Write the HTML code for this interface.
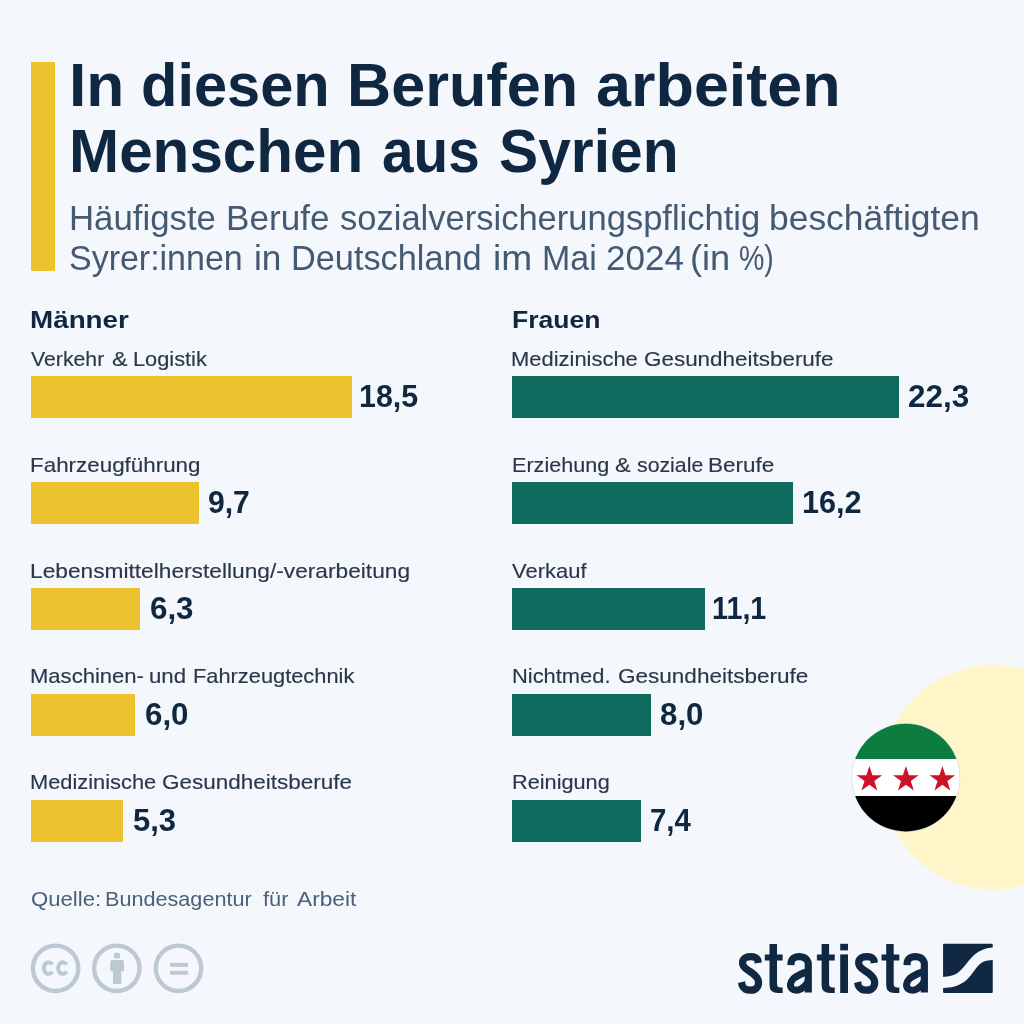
<!DOCTYPE html>
<html lang="de"><head><meta charset="utf-8"><title>In diesen Berufen arbeiten Menschen aus Syrien</title>
<style>
html,body{margin:0;padding:0}
body{width:1024px;height:1024px;position:relative;overflow:hidden;background:#f4f7fb;font-family:"Liberation Sans",sans-serif}
.t{position:absolute;white-space:nowrap;line-height:1;transform-origin:0 0;margin:0}
h1,h2,p,footer{margin:0;font-size:0;line-height:0}
p .t{-webkit-text-stroke:0.15px #28374a}
.bar{position:absolute;height:41.9px}
.y{background:#ecc22e}.g{background:#0f6b5e}
svg{position:absolute;left:0;top:0}
main{position:absolute;left:0;top:0;width:1024px;height:1024px;will-change:transform}
</style></head><body><main>
<svg width="1024" height="1024" viewBox="0 0 1024 1024">
<circle cx="993.5" cy="777.4" r="112.4" fill="#fef5c9"/>
<defs><clipPath id="fc"><circle cx="905.8" cy="777.65" r="53.8"/></clipPath></defs>
<circle cx="905.8" cy="777.65" r="54.4" fill="#d5d9dc"/>
<g clip-path="url(#fc)">
<rect x="850" y="720" width="112" height="39.1" fill="#0d7c3f"/>
<rect x="850" y="759.1" width="112" height="36.9" fill="#ffffff"/>
<rect x="850" y="796" width="112" height="40" fill="#000000"/>
<g fill="#ce1126">
<path id="st" d="M0.00,-13.50 L3.03,-4.17 L12.84,-4.17 L4.90,1.59 L7.94,10.92 L0.00,5.16 L-7.94,10.92 L-4.90,1.59 L-12.84,-4.17 L-3.03,-4.17 Z" transform="translate(869.4,779.5)"/>
<use href="#st" x="36.5"/><use href="#st" x="73"/>
</g>
</g>
<g fill="none" stroke="#bcc8d2" stroke-width="4.4">
<circle cx="55.6" cy="968.3" r="22.7"/>
<circle cx="116.8" cy="968.3" r="22.7"/>
<circle cx="178.5" cy="968.3" r="22.7"/>
<path d="M52.38,964.53 A4.8,5.8 0 1 0 52.38,971.67" stroke-width="3.9"/>
<path d="M66.68,964.53 A4.8,5.8 0 1 0 66.68,971.67" stroke-width="3.9"/>
</g>
<g fill="#bcc8d2">
<rect x="113.8" y="952.8" width="6.4" height="5.8" rx="2.4"/>
<path d="M110.3,962 Q110.3,960 112.3,960 H122 Q124,960 124,962 V971.2 H121.3 V984.1 H113 V971.2 H110.3 Z"/>
<rect x="170" y="962.9" width="18.1" height="3.9"/>
<rect x="170" y="970.8" width="18.1" height="3.9"/>
</g>
</svg>
<div class="bar y" style="left:31px;top:62px;width:23.5px;height:208.5px"></div>
<div class="bar y" style="left:31.00px;top:376.30px;width:320.51px"></div>
<div class="bar y" style="left:31.00px;top:482.15px;width:168.05px"></div>
<div class="bar y" style="left:31.00px;top:588.00px;width:109.15px"></div>
<div class="bar y" style="left:31.00px;top:693.85px;width:103.95px"></div>
<div class="bar y" style="left:31.00px;top:799.70px;width:91.82px"></div>
<div class="bar g" style="left:512.35px;top:376.30px;width:386.35px"></div>
<div class="bar g" style="left:512.35px;top:482.15px;width:280.66px"></div>
<div class="bar g" style="left:512.35px;top:588.00px;width:192.31px"></div>
<div class="bar g" style="left:512.35px;top:693.85px;width:138.60px"></div>
<div class="bar g" style="left:512.35px;top:799.70px;width:128.21px"></div>
<h1><span class="t" style="left:69.01px;top:54px;font-size:61.80px;font-weight:700;color:#0f2741;transform:scaleX(1.0069)">In</span> <span class="t" style="left:140.94px;top:54px;font-size:61.80px;font-weight:700;color:#0f2741;transform:scaleX(0.9640)">diesen</span> <span class="t" style="left:346.78px;top:54px;font-size:61.80px;font-weight:700;color:#0f2741;transform:scaleX(0.9892)">Berufen</span> <span class="t" style="left:596.02px;top:54px;font-size:61.80px;font-weight:700;color:#0f2741;transform:scaleX(1.0179)">arbeiten</span> <span class="t" style="left:69.14px;top:120px;font-size:61.80px;font-weight:700;color:#0f2741;transform:scaleX(0.9741)">Menschen</span> <span class="t" style="left:382.11px;top:120px;font-size:61.80px;font-weight:700;color:#0f2741;transform:scaleX(0.9173)">aus</span> <span class="t" style="left:499.28px;top:120px;font-size:61.80px;font-weight:700;color:#0f2741;transform:scaleX(0.9504)">Syrien</span> </h1>
<h2><span class="t" style="left:68.88px;top:201px;font-size:34.50px;font-weight:400;color:#445a73;transform:scaleX(1.0081)">Häufigste</span> <span class="t" style="left:225.96px;top:201px;font-size:34.50px;font-weight:400;color:#445a73;transform:scaleX(1.0179)">Berufe</span> <span class="t" style="left:339.76px;top:201px;font-size:34.50px;font-weight:400;color:#445a73;transform:scaleX(1.0006)">sozialversicherungspflichtig</span> <span class="t" style="left:768.99px;top:201px;font-size:34.50px;font-weight:400;color:#445a73;transform:scaleX(1.0269)">beschäftigten</span> <span class="t" style="left:69.24px;top:241px;font-size:34.50px;font-weight:400;color:#445a73;transform:scaleX(0.9844)">Syrer:innen</span> <span class="t" style="left:253.70px;top:241px;font-size:34.50px;font-weight:400;color:#445a73;transform:scaleX(1.0194)">in</span> <span class="t" style="left:290.72px;top:241px;font-size:34.50px;font-weight:400;color:#445a73;transform:scaleX(0.9938)">Deutschland</span> <span class="t" style="left:492.98px;top:241px;font-size:34.50px;font-weight:400;color:#445a73;transform:scaleX(1.0751)">im</span> <span class="t" style="left:541.55px;top:241px;font-size:34.50px;font-weight:400;color:#445a73;transform:scaleX(0.9838)">Mai</span> <span class="t" style="left:605.56px;top:241px;font-size:34.50px;font-weight:400;color:#445a73;transform:scaleX(1.0152)">2024</span> <span class="t" style="left:689.80px;top:241px;font-size:34.50px;font-weight:400;color:#445a73;transform:scaleX(1.0493)">(in</span> <span class="t" style="left:738.81px;top:241px;font-size:34.50px;font-weight:400;color:#445a73;transform:scaleX(0.8270)">%)</span> </h2>
<div class="t" style="left:30.26px;top:308px;font-size:24.50px;font-weight:700;color:#0f2741;transform:scaleX(1.1349)">Männer</div>
<div class="t" style="left:511.84px;top:308px;font-size:24.50px;font-weight:700;color:#0f2741;transform:scaleX(1.0827)">Frauen</div>
<p><span class="t" style="left:30.60px;top:349px;font-size:20.70px;font-weight:400;color:#28374a;transform:scaleX(1.0269)">Verkehr</span> <span class="t" style="left:112.28px;top:349px;font-size:20.70px;font-weight:400;color:#28374a;transform:scaleX(1.1208)">&amp;</span> <span class="t" style="left:132.80px;top:349px;font-size:20.70px;font-weight:400;color:#28374a;transform:scaleX(1.0524)">Logistik</span> </p>
<p><span class="t" style="left:30.25px;top:455px;font-size:20.70px;font-weight:400;color:#28374a;transform:scaleX(1.0822)">Fahrzeugführung</span> </p>
<p><span class="t" style="left:30.22px;top:561px;font-size:20.70px;font-weight:400;color:#28374a;transform:scaleX(1.0980)">Lebensmittelherstellung/-verarbeitung</span> </p>
<p><span class="t" style="left:29.88px;top:666px;font-size:20.70px;font-weight:400;color:#28374a;transform:scaleX(1.0656)">Maschinen-</span> <span class="t" style="left:149.41px;top:666px;font-size:20.70px;font-weight:400;color:#28374a;transform:scaleX(1.0754)">und</span> <span class="t" style="left:193.04px;top:666px;font-size:20.70px;font-weight:400;color:#28374a;transform:scaleX(1.0547)">Fahrzeugtechnik</span> </p>
<p><span class="t" style="left:29.99px;top:772px;font-size:20.70px;font-weight:400;color:#28374a;transform:scaleX(1.0555)">Medizinische</span> <span class="t" style="left:162.35px;top:772px;font-size:20.70px;font-weight:400;color:#28374a;transform:scaleX(1.0866)">Gesundheitsberufe</span> </p>
<p><span class="t" style="left:511.38px;top:349px;font-size:20.70px;font-weight:400;color:#28374a;transform:scaleX(1.0606)">Medizinische</span> <span class="t" style="left:644.25px;top:349px;font-size:20.70px;font-weight:400;color:#28374a;transform:scaleX(1.0843)">Gesundheitsberufe</span> </p>
<p><span class="t" style="left:511.61px;top:455px;font-size:20.70px;font-weight:400;color:#28374a;transform:scaleX(1.0450)">Erziehung</span> <span class="t" style="left:614.97px;top:455px;font-size:20.70px;font-weight:400;color:#28374a;transform:scaleX(1.1362)">&amp;</span> <span class="t" style="left:636.77px;top:455px;font-size:20.70px;font-weight:400;color:#28374a;transform:scaleX(1.0289)">soziale</span> <span class="t" style="left:707.74px;top:455px;font-size:20.70px;font-weight:400;color:#28374a;transform:scaleX(1.0883)">Berufe</span> </p>
<p><span class="t" style="left:512.40px;top:561px;font-size:20.70px;font-weight:400;color:#28374a;transform:scaleX(1.0617)">Verkauf</span> </p>
<p><span class="t" style="left:511.69px;top:666px;font-size:20.70px;font-weight:400;color:#28374a;transform:scaleX(1.0581)">Nichtmed.</span> <span class="t" style="left:618.44px;top:666px;font-size:20.70px;font-weight:400;color:#28374a;transform:scaleX(1.0889)">Gesundheitsberufe</span> </p>
<p><span class="t" style="left:511.80px;top:772px;font-size:20.70px;font-weight:400;color:#28374a;transform:scaleX(1.0493)">Reinigung</span> </p>
<div class="t" style="left:358.96px;top:381px;font-size:31.00px;font-weight:700;color:#0f2741;transform:scaleX(0.9793)">18,5</div>
<div class="t" style="left:207.86px;top:487px;font-size:31.00px;font-weight:700;color:#0f2741;transform:scaleX(0.9703)">9,7</div>
<div class="t" style="left:149.98px;top:593px;font-size:31.00px;font-weight:700;color:#0f2741;transform:scaleX(1.0102)">6,3</div>
<div class="t" style="left:144.98px;top:699px;font-size:31.00px;font-weight:700;color:#0f2741;transform:scaleX(1.0102)">6,0</div>
<div class="t" style="left:132.77px;top:805px;font-size:31.00px;font-weight:700;color:#0f2741;transform:scaleX(1.0002)">5,3</div>
<div class="t" style="left:907.67px;top:381px;font-size:31.00px;font-weight:700;color:#0f2741;transform:scaleX(1.0147)">22,3</div>
<div class="t" style="left:802.15px;top:487px;font-size:31.00px;font-weight:700;color:#0f2741;transform:scaleX(0.9863)">16,2</div>
<div class="t" style="left:712.08px;top:593px;font-size:31.00px;font-weight:700;color:#0f2741;transform:scaleX(0.9271)">11,1</div>
<div class="t" style="left:660.33px;top:699px;font-size:31.00px;font-weight:700;color:#0f2741;transform:scaleX(1.0078)">8,0</div>
<div class="t" style="left:650.08px;top:805px;font-size:31.00px;font-weight:700;color:#0f2741;transform:scaleX(0.9486)">7,4</div>
<footer><span class="t" style="left:30.56px;top:890px;font-size:19.80px;font-weight:400;color:#4b6078;transform:scaleX(1.1188)">Quelle:</span> <span class="t" style="left:104.91px;top:890px;font-size:19.80px;font-weight:400;color:#4b6078;transform:scaleX(1.0930)">Bundesagentur</span> <span class="t" style="left:262.80px;top:890px;font-size:19.80px;font-weight:400;color:#4b6078;transform:scaleX(1.0995)">für</span> <span class="t" style="left:296.60px;top:890px;font-size:19.80px;font-weight:400;color:#4b6078;transform:scaleX(1.1469)">Arbeit</span> </footer>
<svg width="1024" height="1024" viewBox="0 0 1024 1024" role="img" aria-label="statista">
<g transform="translate(732.00,938.00) scale(0.0625)"><path d="M418.0,400.0 C417.0,391.7 419.2,364.7 412.0,350.0 C404.8,335.3 393.7,320.7 375.0,312.0 C356.3,303.3 325.5,298.0 300.0,298.0 C274.5,298.0 242.5,302.5 222.0,312.0 C201.5,321.5 185.7,338.7 177.0,355.0 C168.3,371.3 167.0,391.7 170.0,410.0 C173.0,428.3 180.8,447.5 195.0,465.0 C209.2,482.5 231.7,497.5 255.0,515.0 C278.3,532.5 310.8,550.0 335.0,570.0 C359.2,590.0 385.0,612.5 400.0,635.0 C415.0,657.5 423.0,681.7 425.0,705.0 C427.0,728.3 422.0,755.5 412.0,775.0 C402.0,794.5 385.3,812.0 365.0,822.0 C344.7,832.0 315.0,835.3 290.0,835.0 C265.0,834.7 235.3,830.8 215.0,820.0 C194.7,809.2 178.3,789.0 168.0,770.0 C157.7,751.0 155.5,716.7 153.0,706.0" fill="none" stroke="#112842" stroke-width="116"/></g>
<g transform="translate(732.00,938.00) scale(0.0625)"><path d="M600,95 H720 V262 H810 V358 H720 V735 Q720,790 775,790 H810 V880 H735 Q600,880 600,750 V358 H525 V262 H600 Z" fill="#112842"/></g>
<g transform="translate(780.00,938.00) scale(0.0625)"><path d="M176.0,434.0 C176.5,425.8 174.5,401.5 179.0,385.0 C183.5,368.5 191.2,348.2 203.0,335.0 C214.8,321.8 231.8,312.3 250.0,306.0 C268.2,299.7 287.8,295.0 312.0,297.0 C336.2,299.0 372.3,303.3 395.0,318.0 C417.7,332.7 438.5,359.7 448.0,385.0 C457.5,410.3 451.3,455.8 452.0,470.0 L452,872" fill="none" stroke="#112842" stroke-width="115" stroke-linejoin="round"/><path d="M452.0,535.0 C431.7,542.5 369.5,560.8 330.0,580.0 C290.5,599.2 242.0,623.3 215.0,650.0 C188.0,676.7 171.8,713.0 168.0,740.0 C164.2,767.0 176.3,796.3 192.0,812.0 C207.7,827.7 237.3,834.0 262.0,834.0 C286.7,834.0 313.7,827.7 340.0,812.0 C366.3,796.3 401.3,760.3 420.0,740.0 C438.7,719.7 446.7,698.3 452.0,690.0" fill="none" stroke="#112842" stroke-width="112"/></g>
<g transform="translate(784.10,938.00) scale(0.0625)"><path d="M600,95 H720 V262 H810 V358 H720 V735 Q720,790 775,790 H810 V880 H735 Q600,880 600,750 V358 H525 V262 H600 Z" fill="#112842"/></g>
<rect x="840.2" y="943.8" width="7.8" height="6.6" fill="#112842"/><rect x="840.2" y="954.4" width="7.8" height="38.6" fill="#112842"/>
<g transform="translate(848.10,938.00) scale(0.0625)"><path d="M418.0,400.0 C417.0,391.7 419.2,364.7 412.0,350.0 C404.8,335.3 393.7,320.7 375.0,312.0 C356.3,303.3 325.5,298.0 300.0,298.0 C274.5,298.0 242.5,302.5 222.0,312.0 C201.5,321.5 185.7,338.7 177.0,355.0 C168.3,371.3 167.0,391.7 170.0,410.0 C173.0,428.3 180.8,447.5 195.0,465.0 C209.2,482.5 231.7,497.5 255.0,515.0 C278.3,532.5 310.8,550.0 335.0,570.0 C359.2,590.0 385.0,612.5 400.0,635.0 C415.0,657.5 423.0,681.7 425.0,705.0 C427.0,728.3 422.0,755.5 412.0,775.0 C402.0,794.5 385.3,812.0 365.0,822.0 C344.7,832.0 315.0,835.3 290.0,835.0 C265.0,834.7 235.3,830.8 215.0,820.0 C194.7,809.2 178.3,789.0 168.0,770.0 C157.7,751.0 155.5,716.7 153.0,706.0" fill="none" stroke="#112842" stroke-width="116"/></g>
<g transform="translate(848.70,938.00) scale(0.0625)"><path d="M600,95 H720 V262 H810 V358 H720 V735 Q720,790 775,790 H810 V880 H735 Q600,880 600,750 V358 H525 V262 H600 Z" fill="#112842"/></g>
<g transform="translate(896.10,938.00) scale(0.0625)"><path d="M176.0,434.0 C176.5,425.8 174.5,401.5 179.0,385.0 C183.5,368.5 191.2,348.2 203.0,335.0 C214.8,321.8 231.8,312.3 250.0,306.0 C268.2,299.7 287.8,295.0 312.0,297.0 C336.2,299.0 372.3,303.3 395.0,318.0 C417.7,332.7 438.5,359.7 448.0,385.0 C457.5,410.3 451.3,455.8 452.0,470.0 L452,872" fill="none" stroke="#112842" stroke-width="115" stroke-linejoin="round"/><path d="M452.0,535.0 C431.7,542.5 369.5,560.8 330.0,580.0 C290.5,599.2 242.0,623.3 215.0,650.0 C188.0,676.7 171.8,713.0 168.0,740.0 C164.2,767.0 176.3,796.3 192.0,812.0 C207.7,827.7 237.3,834.0 262.0,834.0 C286.7,834.0 313.7,827.7 340.0,812.0 C366.3,796.3 401.3,760.3 420.0,740.0 C438.7,719.7 446.7,698.3 452.0,690.0" fill="none" stroke="#112842" stroke-width="112"/></g>
<g transform="translate(936.00,936.00) scale(0.0625)"><path d="M113,140 Q113,122 131,122 H890 Q908,122 908,140 L908.0,185.0 C896.7,186.2 864.7,187.0 840.0,192.0 C815.3,197.0 786.7,205.3 760.0,215.0 C733.3,224.7 706.7,234.2 680.0,250.0 C653.3,265.8 626.7,285.0 600.0,310.0 C573.3,335.0 546.7,368.3 520.0,400.0 C493.3,431.7 466.7,470.0 440.0,500.0 C413.3,530.0 386.7,559.2 360.0,580.0 C333.3,600.8 306.7,614.2 280.0,625.0 C253.3,635.8 227.8,640.0 200.0,645.0 C172.2,650.0 127.5,653.3 113.0,655.0 Z" fill="#112842"/><path d="M113.0,835.0 C127.5,833.3 172.2,829.2 200.0,825.0 C227.8,820.8 253.3,816.7 280.0,810.0 C306.7,803.3 333.3,796.7 360.0,785.0 C386.7,773.3 413.3,759.2 440.0,740.0 C466.7,720.8 493.3,698.3 520.0,670.0 C546.7,641.7 576.7,600.0 600.0,570.0 C623.3,540.0 640.0,512.5 660.0,490.0 C680.0,467.5 700.0,449.2 720.0,435.0 C740.0,420.8 760.0,412.2 780.0,405.0 C800.0,397.8 818.7,395.3 840.0,392.0 C861.3,388.7 896.7,386.2 908.0,385.0 L908,894 Q908,912 890,912 H131 Q113,912 113,894 Z" fill="#112842"/></g>
</svg>
</main></body></html>
